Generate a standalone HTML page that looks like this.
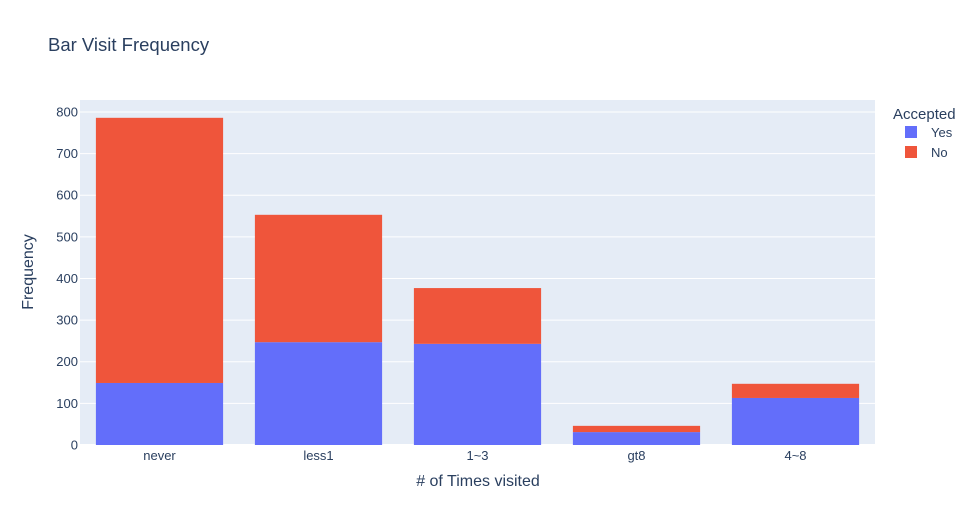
<!DOCTYPE html>
<html><head><meta charset="utf-8"><style>
body{margin:0;background:#fff;}
svg{font-family:"Liberation Sans",sans-serif;}
</style></head><body>
<svg id="chart" width="971" height="525">
<rect x="0" y="0" width="971" height="525" fill="#fff"/>
<rect x="80" y="100" width="795" height="345" fill="#E5ECF6"/>
<g id="grid"></g>
<g id="bars"></g>
<g id="ticks"></g>
<text x="48" y="51" font-size="18.5" fill="#2a3f5f">Bar Visit Frequency</text>
<text x="478" y="486" font-size="16" fill="#2a3f5f" text-anchor="middle"># of Times visited</text>
<text x="33" y="272" font-size="16" fill="#2a3f5f" text-anchor="middle" transform="rotate(-90 33 272)">Frequency</text>
<g>
<text x="893" y="119" font-size="15" fill="#2a3f5f">Accepted</text>
<g><rect x="905" y="126" width="12" height="12" fill="#636efa"/><text x="931" y="137" font-size="13" fill="#2a3f5f">Yes</text></g>
<g><rect x="905" y="146" width="12" height="12" fill="#EF553B"/><text x="931" y="157" font-size="13" fill="#2a3f5f">No</text></g>
</g>
</svg>
<script>
const categories=["never","less1","1~3","gt8","4~8"];
const yesValues=[149,247,243,31,113];
const noValues=[637,306,134,15,34];
const yTicks=[0,100,200,300,400,500,600,700,800];
const NS="http://www.w3.org/2000/svg";
const x0=80,x1=875,yBase=445,yMax=828.8,plotH=345;
const y=v=>yBase-v/yMax*plotH;
const band=(x1-x0)/categories.length;
const xc=i=>x0+band*(i+0.5);
const bw=band*0.8;
function mk(tag,attrs,parent){const e=document.createElementNS(NS,tag);for(const k in attrs)e.setAttribute(k,attrs[k]);parent.appendChild(e);return e;}
const grid=document.getElementById('grid'),bars=document.getElementById('bars'),ticks=document.getElementById('ticks');
yTicks.forEach(t=>{
 const l=mk('line',{x1:x0,x2:x1,y1:y(t),y2:y(t),stroke:'#fff','stroke-width':t===0?2:1},grid);
 
 
 const tx=mk('text',{x:78,y:y(t)+4.5,'font-size':13,fill:'#2a3f5f','text-anchor':'end'},ticks);
 tx.textContent=t;
 
 
});
categories.forEach((c,i)=>{
 const by=mk('rect',{x:xc(i)-bw/2,y:y(yesValues[i]),width:bw,height:yBase-y(yesValues[i]),fill:'#636efa'},bars);
 
 
 const tot=yesValues[i]+noValues[i];
 const bn=mk('rect',{x:xc(i)-bw/2,y:y(tot),width:bw,height:y(yesValues[i])-y(tot),fill:'#EF553B'},bars);
 
 
 const tx=mk('text',{x:xc(i),y:460,'font-size':13,fill:'#2a3f5f','text-anchor':'middle'},ticks);
 tx.textContent=c;
 
 
});
</script>
</body></html>
